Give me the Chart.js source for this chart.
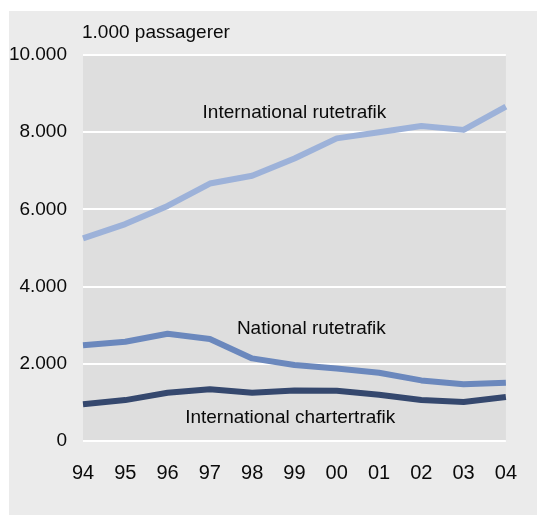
<!DOCTYPE html>
<html>
<head>
<meta charset="utf-8">
<script src="https://cdn.jsdelivr.net/npm/chart.js@4"></script>
<style>
  html, body { margin: 0; padding: 0; background: #ffffff; }
  #panel {
    position: absolute; left: 9px; top: 11px;
    width: 528px; height: 504px; background: #ebebeb;
  }
</style>
</head>
<body>
<div id="panel"><canvas id="chart" width="528" height="504"></canvas></div>
<script>
// Data (1.000 passagerer)
const years = ['94', '95', '96', '97', '98', '99', '00', '01', '02', '03', '04'];
const internationalRute = [5250, 5620, 6090, 6670, 6870, 7320, 7840, 8000, 8160, 8060, 8660];
const nationalRute = [2480, 2570, 2780, 2640, 2140, 1970, 1880, 1770, 1570, 1470, 1510];
const internationalCharter = [950, 1060, 1250, 1340, 1250, 1310, 1300, 1200, 1060, 1010, 1140];
const yTickLabels = ['0', '2.000', '4.000', '6.000', '8.000', '10.000'];
const unitLabel = '1.000 passagerer';

// series label annotations: [text, x index, y value]
const seriesLabels = [
    ['International rutetrafik', 5, 8500],
    ['National rutetrafik', 5.4, 2900],
    ['International chartertrafik', 4.9, 600]
];

const FONT = '"Liberation Sans", Arial, sans-serif';
const TEXT_COLOR = '#0a0a0a';

const backgroundPlugin = {
    id: 'plotBackground',
    beforeDraw(chart) {
        const { ctx, chartArea } = chart;
        ctx.save();
        ctx.fillStyle = '#dedede';
        ctx.fillRect(chartArea.left, chartArea.top, chartArea.right - chartArea.left, chartArea.bottom - chartArea.top);
        ctx.restore();
    }
};

const textPlugin = {
    id: 'textLabels',
    afterDraw(chart) {
        const { ctx, chartArea, scales } = chart;
        ctx.save();
        ctx.fillStyle = TEXT_COLOR;
        ctx.font = '19px ' + FONT;
        ctx.textBaseline = 'middle';
        ctx.textAlign = 'left';
        ctx.fillText(unitLabel, chartArea.left - 1, chartArea.top - 22);
        ctx.textAlign = 'center';
        seriesLabels.forEach(([text, xi, yv]) => {
            ctx.fillText(text, scales.x.getPixelForValue(xi), scales.y.getPixelForValue(yv));
        });
        ctx.restore();
    }
};

new Chart(document.getElementById('chart'), {
    type: 'line',
    data: {
        labels: years,
        datasets: [
            { label: 'International rutetrafik', data: internationalRute, borderColor: '#9db2d9' },
            { label: 'National rutetrafik', data: nationalRute, borderColor: '#6b88bd' },
            { label: 'International chartertrafik', data: internationalCharter, borderColor: '#35486e' }
        ].map(ds => Object.assign(ds, {
            borderWidth: 6,
            pointRadius: 0,
            tension: 0,
            borderJoinStyle: 'round',
            fill: false
        }))
    },
    options: {
        responsive: false,
        animation: false,
        layout: { padding: { top: 44, right: 28, left: 0, bottom: 0 } },
        plugins: {
            legend: { display: false },
            tooltip: { enabled: false }
        },
        scales: {
            x: {
                offset: false,
                grid: { display: false, drawTicks: false },
                border: { display: false },
                ticks: { color: TEXT_COLOR, font: { family: FONT, size: 20 }, padding: 20, maxRotation: 0 },
                afterFit(axis) { axis.height = 74; }
            },
            y: {
                min: 0,
                max: 10000,
                grid: { color: '#ffffff', lineWidth: 2, drawTicks: false },
                border: { display: false },
                ticks: {
                    stepSize: 2000,
                    color: TEXT_COLOR,
                    font: { family: FONT, size: 19 },
                    padding: 16,
                    callback: (value, index) => yTickLabels[index]
                },
                afterFit(axis) { axis.width = 74; }
            }
        }
    },
    plugins: [backgroundPlugin, textPlugin]
});
</script>
</body>
</html>
